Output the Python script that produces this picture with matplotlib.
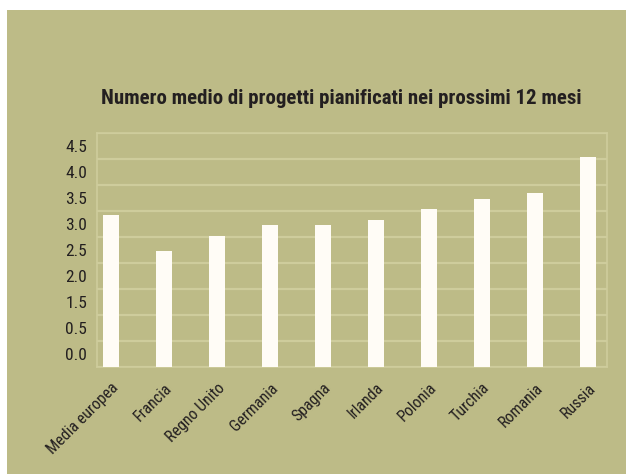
import matplotlib

matplotlib.use("Agg")
import matplotlib.pyplot as plt
from matplotlib.patches import Rectangle

# Survey data: average number of projects planned in the next 12 months
countries = ["Media europea", "Francia", "Regno Unito", "Germania", "Spagna",
             "Irlanda", "Polonia", "Turchia", "Romania", "Russia"]
projects = [2.92, 2.23, 2.52, 2.73, 2.72, 2.82, 3.03, 3.23, 3.34, 4.03]

# Axis labels as printed in the band between each pair of gridlines
grid_levels = [0.0, 0.5, 1.0, 1.5, 2.0, 2.5, 3.0, 3.5, 4.0, 4.5]
band_labels = ["0.0", "0.5", "1.5", "2.0", "2.5", "3.0", "3.5", "4.0", "4.5"]

BG = "#bdbb87"
GRID = "#cecc9c"
INK = "#231f20"
BAR = "#fffcf6"

plt.rcParams["font.family"] = ["Roboto Condensed", "Archivo Narrow", "DejaVu Sans"]

fig = plt.figure(figsize=(6.26, 4.74), dpi=100)
fig.patch.set_facecolor("white")
fig.patches.append(Rectangle((7 / 626, 0), 1, 1 - 10 / 474, transform=fig.transFigure,
                             facecolor=BG, edgecolor="none", zorder=-5))

ax = fig.add_axes([97 / 626, 1 - 366.5 / 474, 510 / 626, 233.5 / 474])
ax.set_facecolor("none")

x = range(len(countries))
ax.bar(x, projects, width=0.31, color=BAR, edgecolor="none", zorder=3)

for lv in grid_levels:
    ax.axhline(lv, color=GRID, linewidth=1.6, zorder=1)

ax.set_xlim(-0.264, 9.36)
ax.set_ylim(0, 4.5)

mids = [(a + b) / 2 for a, b in zip(grid_levels[:-1], grid_levels[1:])]
ax.set_yticks(mids)
ax.set_yticklabels(band_labels, fontsize=12.5, color=INK)
ax.tick_params(axis="y", length=0, pad=7)

ax.set_xticks(list(x))
ax.set_xticklabels(countries, rotation=45, ha="right", va="top",
                   rotation_mode="anchor", fontsize=11.5, color=INK)
ax.tick_params(axis="x", length=0, pad=10)

for side in ["top", "right", "bottom", "left"]:
    ax.spines[side].set_color(GRID)
    ax.spines[side].set_linewidth(1.2)

fig.text(0.5455, 1 - 98 / 474, "Numero medio di progetti pianificati nei prossimi 12 mesi",
         ha="center", va="center", fontsize=15, fontweight="bold", color=INK)

fig.savefig("out.png", dpi=100)
